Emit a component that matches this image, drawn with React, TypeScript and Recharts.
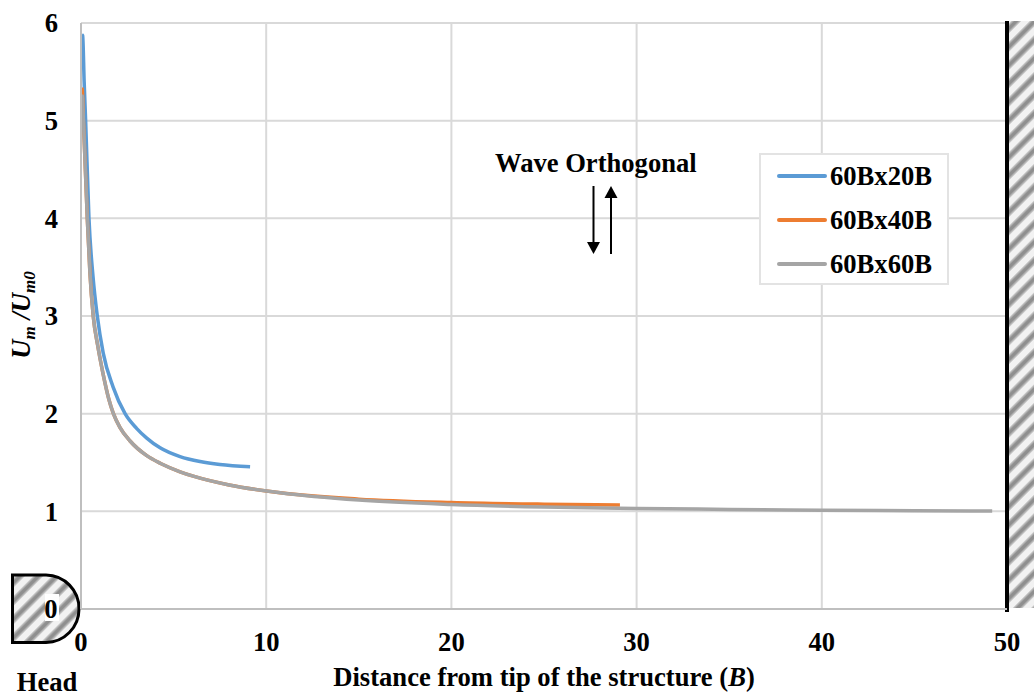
import React from "react";
import { LineChart, Line, XAxis, YAxis, CartesianGrid, Legend } from "recharts";

const xTicks = [0, 10, 20, 30, 40, 50];
const yTicks = [0, 1, 2, 3, 4, 5, 6];
const names = ["60Bx20B", "60Bx40B", "60Bx60B"];
const colors = ["#5b9bd5", "#ed7d31", "#a5a5a5"];

const x20 = [0.05, 0.09, 0.17, 0.25, 0.43, 0.65, 0.88, 1.2, 1.73, 2.38, 3.0, 3.55, 4.27, 5.35, 6.43, 7.5, 9.13];
const y20 = [5.88, 5.87, 5.4, 5.0, 4.0, 3.4, 3.0, 2.62, 2.275, 2.0, 1.85, 1.75, 1.65, 1.56, 1.51, 1.48, 1.457];

const x40 = [0.04, 0.07, 0.13, 0.34, 0.48, 0.66, 0.9, 1.2, 1.5, 1.75, 2.1, 2.65, 3.55, 4.3, 5.35, 6.06, 8.0, 10.75, 15, 20, 25, 29.1];
const y40 = [5.33, 5.32, 5.0, 4.0, 3.45, 3.0, 2.7, 2.4, 2.15, 2.0, 1.86, 1.72, 1.57, 1.49, 1.405, 1.36, 1.27, 1.19, 1.125, 1.09, 1.073, 1.065];

const x60 = [0.04, 0.07, 0.13, 0.34, 0.48, 0.66, 0.9, 1.2, 1.5, 1.75, 2.1, 2.65, 3.55, 4.3, 5.35, 6.06, 8.0, 10.75, 15, 20, 25, 30, 35, 40, 45, 49.2];
const y60 = [5.26, 5.25, 5.0, 4.0, 3.45, 3.0, 2.7, 2.4, 2.15, 2.0, 1.86, 1.72, 1.57, 1.49, 1.405, 1.36, 1.27, 1.19, 1.115, 1.07, 1.045, 1.03, 1.02, 1.012, 1.006, 1.003];

const table = (xs: number[], ys: number[]) => xs.map((x, i) => ({ x, y: ys[i] }));
const series = [table(x20, y20), table(x40, y40), table(x60, y60)];

const FONT = "'Liberation Serif', 'Times New Roman', serif";
const SIZE = 26.6;
const tickStyle = { fontFamily: FONT, fontSize: SIZE, fontWeight: 700, fill: "#000" };
const textStyle = { fontFamily: FONT, fontSize: SIZE, fontWeight: 700, fill: "#000" } as const;

function LegendBox() {
  return (
    <div style={{ boxSizing: "border-box", width: 190, height: 132, background: "#fff", border: "2px solid #e3e3e3", fontFamily: FONT, fontSize: SIZE, fontWeight: 700, color: "#000" }}>
      {names.map((n, i) => (
        <div key={n} style={{ display: "flex", alignItems: "center", height: 44, marginLeft: 16, marginTop: i === 0 ? -1 : 0 }}>
          <span style={{ display: "inline-block", width: 50, height: 3.5, background: colors[i], marginRight: 3, borderRadius: 2 }} />
          <span>{n}</span>
        </div>
      ))}
    </div>
  );
}

function Decorations() {
  return (
    <g>
      <defs>
        <pattern id="hatch" width="13" height="13" patternUnits="userSpaceOnUse" patternTransform="rotate(-45)">
          <rect width="13" height="13" fill="#f2f2f2" />
          <rect width="13" height="7" y="2" fill="#c4c4c4" />
          <rect width="13" height="4" y="3.5" fill="#8f8f8f" />
        </pattern>
      </defs>
      <rect x={1009} y={21} width={25} height={587} fill="url(#hatch)" />
      <rect x={1005} y={21} width={4} height={591} fill="#000" />
      <path d="M12.5 575 H46 A33.5 33.5 0 0 1 79 609 A33.5 33.5 0 0 1 46 642.5 H12.5 Z" fill="url(#hatch)" stroke="#000" strokeWidth={3} />
      <rect x={45} y={594} width={14} height={27} fill="#fff" />
      <text x={51} y={618} textAnchor="middle" style={textStyle}>0</text>
      <text x={47} y={691} textAnchor="middle" style={textStyle}>Head</text>
      <text x={495} y={172} style={textStyle}>Wave Orthogonal</text>
      <path d="M593.5 186 V242" stroke="#000" strokeWidth={2} />
      <path d="M587 242 H600 L593.5 254 Z" fill="#000" />
      <path d="M611 254 V198" stroke="#000" strokeWidth={2} />
      <path d="M604.5 198 H617.5 L611 186 Z" fill="#000" />
      <text x={544} y={686} textAnchor="middle" style={textStyle}>
        Distance from tip of the structure (<tspan fontStyle="italic">B</tspan>)
      </text>
      <text transform="translate(30 315) rotate(-90)" textAnchor="middle" style={{ ...textStyle, fontStyle: "italic" }}>
        U<tspan fontSize={17} dy={5}>m</tspan><tspan dy={-5}> /U</tspan><tspan fontSize={17} dy={5}>m0</tspan>
      </text>
    </g>
  );
}

export default function App() {
  return (
    <div style={{ position: "absolute", left: 0, top: 0, width: 1034, height: 693, background: "#fff" }}>
      <LineChart width={1034} height={693} margin={{ top: 23, right: 27, bottom: 0, left: 0 }}>
        <CartesianGrid stroke="#d9d9d9" strokeWidth={2} horizontalValues={yTicks} verticalValues={xTicks} />
        <XAxis
          type="number"
          dataKey="x"
          domain={[0, 50]}
          ticks={xTicks}
          allowDataOverflow
          height={84}
          tick={tickStyle}
          tickLine={false}
          axisLine={{ stroke: "#bfbfbf", strokeWidth: 2 }}
          tickMargin={17}
        />
        <YAxis
          type="number"
          domain={[0, 6]}
          ticks={yTicks.filter((t) => t > 0)}
          width={81}
          tick={tickStyle}
          tickLine={false}
          axisLine={{ stroke: "#bfbfbf", strokeWidth: 2 }}
          tickMargin={17}
        />
        {series.map((d, i) => (
          <Line
            key={names[i]}
            data={d}
            dataKey="y"
            name={names[i]}
            type="monotone"
            stroke={colors[i]}
            strokeWidth={3.5}
            dot={false}
            isAnimationActive={false}
          />
        ))}
        <Legend
          layout="vertical"
          align="center"
          verticalAlign="middle"
          content={<LegendBox />}
          wrapperStyle={{ left: 759, top: 153, width: 190, height: 132, bottom: "auto" }}
        />
        <Decorations />
      </LineChart>
    </div>
  );
}
